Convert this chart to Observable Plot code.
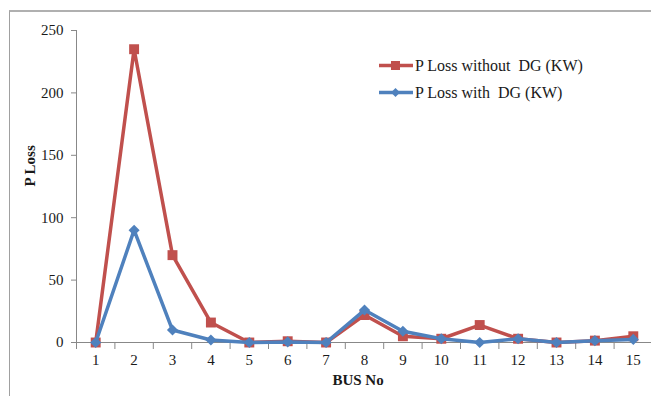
<!DOCTYPE html>
<html>
<head>
<meta charset="utf-8">
<script src="https://cdn.jsdelivr.net/npm/d3@7"></script>
<script src="https://cdn.jsdelivr.net/npm/@observablehq/plot@0.6"></script>
<style>
  html, body { margin: 0; padding: 0; background: #fff; overflow: hidden; }
  #wrap { position: relative; width: 651px; height: 396px; font-family: "Liberation Serif", "DejaVu Serif", serif; }
  #frame { position: absolute; left: 9px; top: 10px; width: 660px; height: 400px; border-top: 2px solid #b0b0b0; border-left: 1px solid #a0a0a0; }
  #chart { position: absolute; left: 0; top: 0; }
  #legend { position: absolute; left: 378px; top: 52px; font-size: 16px; color: #1a1a1a; }
  .lg { display: flex; align-items: center; height: 27px; white-space: pre; }
  .lg svg { margin-right: 1px; }
</style>
</head>
<body>
<div id="wrap">
  <div id="frame"></div>
  <div id="chart"></div>
  <div id="legend"></div>
</div>
<script>
const busNo = [1, 2, 3, 4, 5, 6, 7, 8, 9, 10, 11, 12, 13, 14, 15];
const lossWithoutDG = [0, 235, 70, 16, 0, 1, 0, 22, 5, 3, 14, 3, 0, 1.5, 5];
const lossWithDG = [0, 90, 10, 2, 0, 0.5, 0, 26, 9, 3, 0, 3, 0, 1.5, 2.5];
const seriesNames = ["P Loss without  DG (KW)", "P Loss with  DG (KW)"];
const seriesColors = ["#C0504D", "#4F81BD"];
const yTicks = [0, 50, 100, 150, 200, 250];

const red = busNo.map((b, i) => ({bus: b, value: lossWithoutDG[i]}));
const blue = busNo.map((b, i) => ({bus: b, value: lossWithDG[i]}));
const bounds = d3.range(busNo[0] - 0.5, busNo[busNo.length - 1] + 1, 1);

const chart = Plot.plot({
  width: 651,
  height: 396,
  marginLeft: 76,
  marginRight: 0,
  marginTop: 30,
  marginBottom: 54,
  style: {fontFamily: "'Liberation Serif', serif", fontSize: "15px", color: "#1a1a1a", background: "transparent"},
  x: {type: "linear", domain: [busNo[0] - 0.5, busNo[busNo.length - 1] + 0.5], range: [76, 652]},
  y: {domain: [0, 250]},
  marks: [
    Plot.axisY({ticks: yTicks, tickSize: 5, tickPadding: 8, stroke: "#888", label: null, fontSize: 15}),
    Plot.axisX({ticks: bounds, tickSize: 7, tickFormat: () => "", stroke: "#888", label: null}),
    Plot.axisX({ticks: busNo, tickSize: 0, tickPadding: 12, label: null, fontSize: 15}),
    Plot.ruleY([0], {stroke: "#888", strokeWidth: 1.2}),
    Plot.ruleX([busNo[0] - 0.5], {y1: 0, y2: 250, stroke: "#888"}),
    Plot.line(red, {x: "bus", y: "value", stroke: seriesColors[0], strokeWidth: 3.5}),
    Plot.dot(red, {x: "bus", y: "value", symbol: "square", r: 5.6, fill: seriesColors[0], stroke: "none"}),
    Plot.line(blue, {x: "bus", y: "value", stroke: seriesColors[1], strokeWidth: 3.5}),
    Plot.dot(blue, {x: "bus", y: "value", symbol: "diamond2", r: 5, fill: seriesColors[1], stroke: "none"}),
    Plot.text(["P Loss"], {frameAnchor: "left", dx: -46, rotate: -90, fontWeight: "bold", fontSize: 15, fill: "#1a1a1a"}),
    Plot.text(["BUS No"], {frameAnchor: "bottom", dy: 42, dx: -6, fontWeight: "bold", fontSize: 15, fill: "#1a1a1a"})
  ]
});
document.getElementById("chart").appendChild(chart);

const legend = document.getElementById("legend");
seriesNames.forEach((name, i) => {
  const row = document.createElement("div");
  row.className = "lg";
  const marker = i === 0
    ? `<rect x="13" y="5" width="9" height="9" fill="${seriesColors[i]}"/>`
    : `<path d="M17.5 5 L22 9.5 L17.5 14 L13 9.5 Z" fill="${seriesColors[i]}"/>`;
  row.innerHTML = `<svg width="36" height="19"><line x1="1" x2="35" y1="9.5" y2="9.5" stroke="${seriesColors[i]}" stroke-width="3.5"/>${marker}</svg><span>${name}</span>`;
  legend.appendChild(row);
});
</script>
</body>
</html>
